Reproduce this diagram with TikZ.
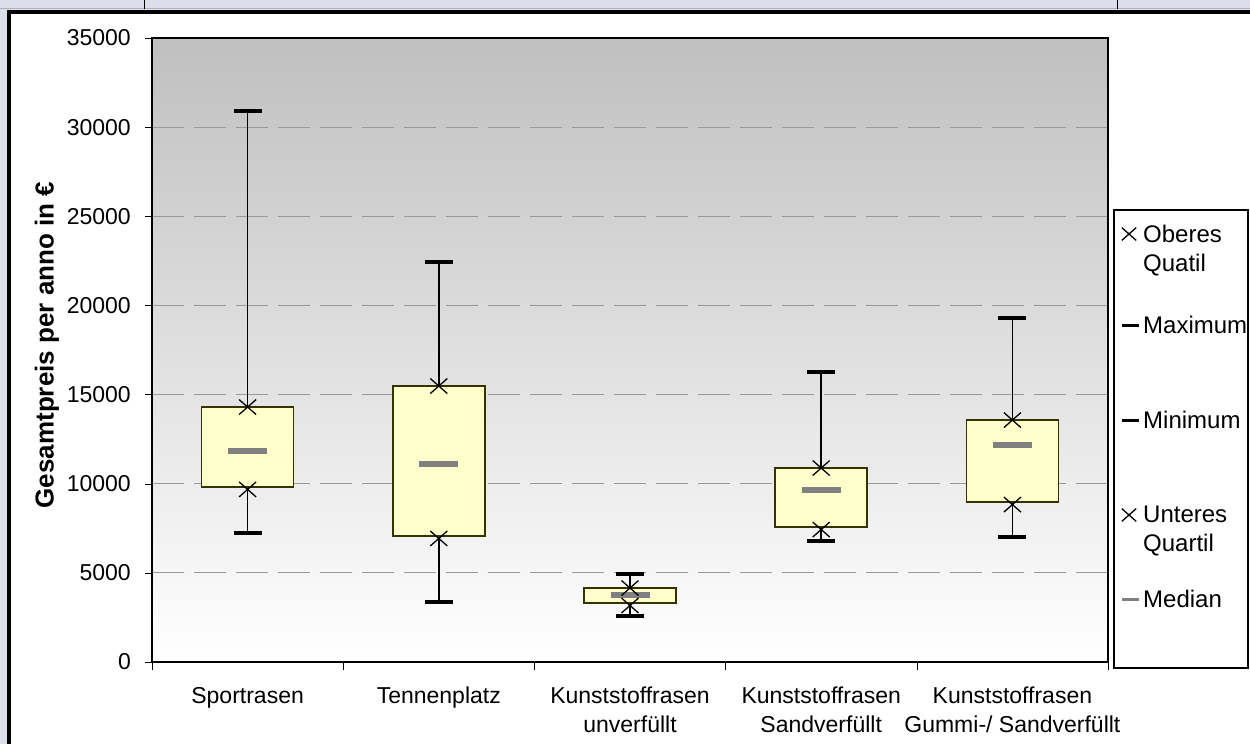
\documentclass[tikz,border=0pt]{standalone}
\usepackage{fontspec}
\setmainfont{Liberation Sans}
\usetikzlibrary{positioning}

\definecolor{framebg}{HTML}{DCDEEB}
\definecolor{boxfill}{HTML}{FFFFCC}
\definecolor{boxline}{HTML}{333300}
\definecolor{gridgray}{HTML}{999999}
\definecolor{mediangray}{HTML}{808080}

\tikzset{
    ticklabel/.style={inner sep=0pt, font=\fontsize{23}{28}\selectfont},
    catlabel/.style={inner sep=0pt, align=center, font=\fontsize{23}{29}\selectfont},
    legtext/.style={inner sep=0pt, align=left, font=\fontsize{24}{29}\selectfont},
    gridline/.style={gridgray, line width=1pt, dash pattern=on 32pt off 10pt},
    whisker/.style={line width=1.5pt},
    capline/.style={line width=3.5pt},
    quartbox/.style={fill=boxfill, draw=boxline, line width=1.5pt},
    medianbar/.style={mediangray, line width=6pt},
    qcross/.pic={\draw[line width=1.3pt] (-8.5pt,-7.5pt) -- (8.5pt,7.5pt) (-8.5pt,7.5pt) -- (8.5pt,-7.5pt);}
}

\begin{document}
\begin{tikzpicture}[x=1pt,y=-1pt]
    \useasboundingbox (0,0) rectangle (1250,744);

    % Window frame
    \fill[framebg] (0,0) rectangle (1250,744);
    \fill[white] (11,13) rectangle (1250,744);
    \draw[gray!60] (0,8.5) -- (1250,8.5);
    \draw (144,0) -- (144,8.5);
    \draw (1117,0) -- (1117,8.5);
    \draw[line width=4pt] (9,744) -- (9,11.5) -- (1250,11.5);

    % Plot area
    \shade[top color=gray!50, bottom color=white] (152,38) rectangle (1108,662);

    % values in thousands of euro
    \begin{scope}[shift={(152,662)}, y=17.8286pt]
        % Grid
        \foreach \v in {5,10,...,30}
            \draw[gridline] (0,\v) -- (956,\v);

        % Axes
        \draw[line width=1.5pt] (0,0) rectangle (956,35);
        \foreach \v/\t in {0/0,5/5000,10/10000,15/15000,20/20000,25/25000,30/30000,35/35000} {
            \draw (-7,\v) -- (0,\v);
            \node[ticklabel, anchor=east] (tick\v) at (-21,\v) {\t};
        }
        \foreach \i in {0,...,5}
            \draw (\i*191.2,0) -- ++(0pt,-8pt);

        % Boxes: center/min/q1/median/q3/max
        \foreach \cx/\mn/\qa/\md/\qb/\mx in {
            95.6/7.24/9.82/11.84/14.30/30.90,
            286.8/3.37/7.07/11.11/15.48/22.44,
            478/2.58/3.31/3.76/4.15/4.94,
            669.2/6.79/7.57/9.65/10.88/16.27,
            860.4/7.01/8.97/12.17/13.57/19.30} {
            \draw[whisker] (\cx,\mn) -- (\cx,\mx);
            \draw[quartbox] (\cx-46,\qa) rectangle (\cx+46,\qb);
            \draw[medianbar] (\cx-19.5,\md) -- (\cx+19.5,\md);
            \draw[capline] (\cx-14,\mn) -- (\cx+14,\mn);
            \draw[capline] (\cx-14,\mx) -- (\cx+14,\mx);
            \pic at (\cx,\qb) {qcross};
            \pic[yshift=-2.5pt] at (\cx,\qa) {qcross};
        }
    \end{scope}

    % Category labels
    \node[catlabel, anchor=north] (sport) at (247.6,687) {Sportrasen};
    \node[catlabel, anchor=north] (tenne) at (438.8,687) {Tennenplatz};
    \node[catlabel, anchor=north] (unverf) at (630,687) {Kunststoffrasen\\unverfüllt};
    \node[catlabel, anchor=north] (sandverf) at (821.2,687) {Kunststoffrasen\\Sandverfüllt};
    \node[catlabel, anchor=north] (gummiverf) at (1012.4,687) {Kunststoffrasen\\Gummi-/ Sandverfüllt};

    % Axis title
    \node[font=\bfseries\fontsize{26}{30}\selectfont, rotate=90] (ylabel) at (47,345) {Gesamtpreis per anno in €};

    % Legend
    \draw[line width=1.2pt] (1114,210) rectangle (1248,668);
    \pic[scale=0.85] at (1129,234) {qcross};
    \node[legtext, anchor=north west] (oberes) at (1143,225) {Oberes\\Quatil};
    \draw[capline, line width=3pt] (1122,325) -- (1139,325);
    \node[legtext, anchor=west] (maximum) at (1143,325) {Maximum};
    \draw[capline, line width=3pt] (1122,420) -- (1139,420);
    \node[legtext, anchor=west] (minimum) at (1143,420) {Minimum};
    \pic[scale=0.85] at (1129,515) {qcross};
    \node[legtext, anchor=north west] (unteres) at (1143,506) {Unteres\\Quartil};
    \draw[medianbar, line width=3pt] (1122,599) -- (1139,599);
    \node[legtext, anchor=west] (median) at (1143,599) {Median};
\end{tikzpicture}
\end{document}
